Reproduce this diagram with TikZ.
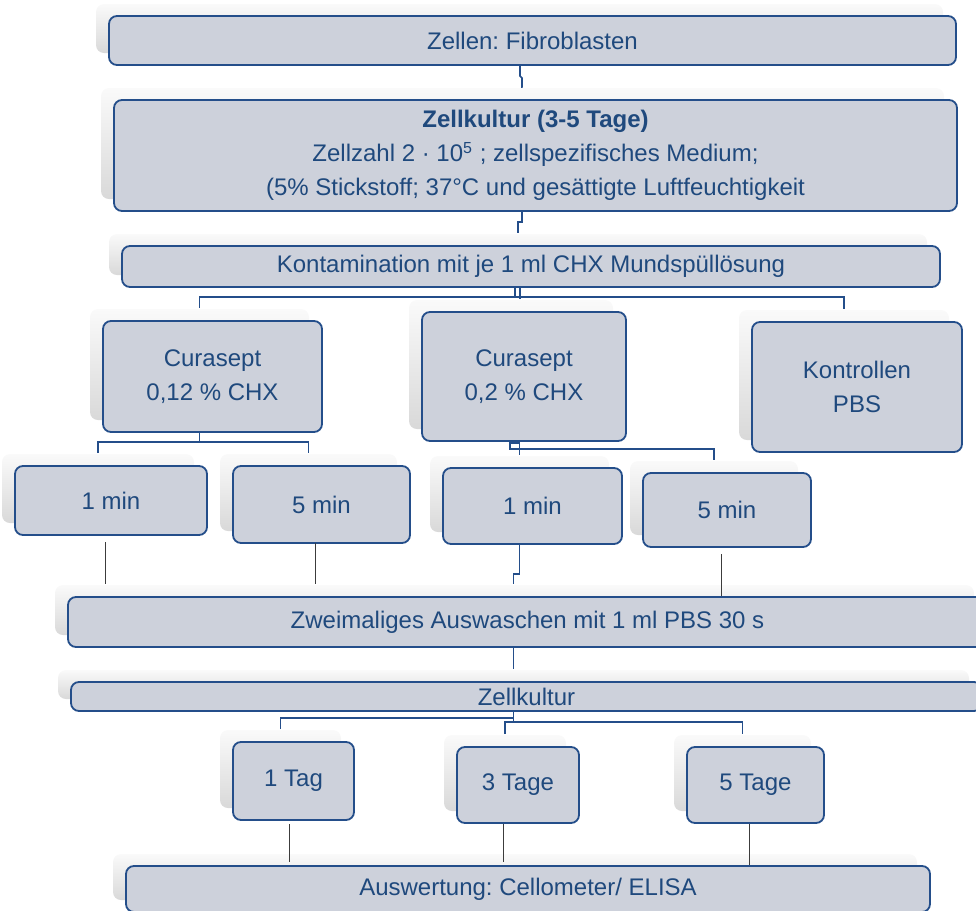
\documentclass[tikz,border=0pt]{standalone}
\usepackage{fontspec}
\setmainfont{Liberation Sans}
\usetikzlibrary{calc}
\definecolor{boxfill}{RGB}{205,209,219}
\definecolor{boxline}{RGB}{36,78,138}
\definecolor{boxtext}{RGB}{31,73,125}
\definecolor{graylink}{RGB}{60,60,60}
\frenchspacing

\begin{document}
\begin{tikzpicture}[x=0.5pt, y=-0.5pt,
  stage/.style 2 args={draw=boxline, line width=0.9pt, fill=boxfill, rounded corners=4pt,
    text=boxtext, align=center, font=\fontsize{12}{17}\selectfont, inner sep=0pt,
    minimum width=#1*0.5pt, minimum height=#2*0.5pt,
    preaction={draw=none, top color=black!2, bottom color=black!15,
      transform canvas={shift={(-6.5pt,6pt)}}}},
  link/.style={draw=boxline, line width=0.8pt},
  thinlink/.style={draw=graylink, line width=0.5pt}]
	\useasboundingbox (0,0) rectangle (976,911);
	\clip (0,0) rectangle (976,911);
	
	\node[stage={847}{49}] (zellen) at (532.5,40.5) {Zellen: Fibroblasten};
	\node[stage={843}{111}] (kultur) at (535.5,155.5) {\textbf{Zellkultur (3-5 Tage)}\\Zellzahl 2 · 10\textsuperscript{5} ; zellspezifisches Medium;\\(5\% Stickstoff; 37°C und gesättigte Luftfeuchtigkeit};
	\node[stage={818}{41}] (konta) at (531,266.5) {Kontamination mit je 1 ml CHX Mundspüllösung};
	
	\node[stage={219}{111}] (cura1) at (212.5,376.5) {Curasept\\0,12 \% CHX};
	\node[stage={204}{129}] (cura2) at (524,376.5) {Curasept\\0,2 \% CHX};
	\node[stage={210}{130}] (kontr) at (857,387) {Kontrollen\\PBS};
	
	\node[stage={192}{69}] (min1a) at (111,500.5) {1 min};
	\node[stage={177}{77}] (min5a) at (321.5,504.5) {5 min};
	\node[stage={179}{76}] (min1b) at (532.5,506) {1 min};
	\node[stage={168}{74}] (min5b) at (727,510) {5 min};
	
	\node[stage={919}{50}] (wasch) at (527.5,622) {Zweimaliges Auswaschen mit 1 ml PBS 30 s};
	\node[stage={911}{29}] (kultur2) at (526.5,696.5) {Zellkultur};
	
	\node[stage={121}{78}] (tag1) at (293.5,781) {1 Tag};
	\node[stage={122}{76}] (tag3) at (518,785) {3 Tage};
	\node[stage={137}{76}] (tag5) at (755.5,785) {5 Tage};
	
	\node[stage={804}{46}] (ausw) at (528,889) {Auswertung: Cellometer/ ELISA};
	
	% top of each shadow
	\foreach \n in {zellen,kultur,konta,cura1,cura2,kontr,min1a,min5a,min1b,min5b,wasch,kultur2,tag1,tag3,tag5,ausw}
		\coordinate (\n-s) at ([shift={(-13,-12)}]\n.north);
	
	\coordinate (j1) at (520,76);
	\draw[link] (j1 |- zellen.south) -- (j1) -- ++(2,2) |- (kultur-s);
	
	\coordinate (j2) at (522,222);
	\draw[link] (j2 |- kultur.south) -- (j2) -| (konta-s);
	
	\coordinate (j3) at (515,297);
	\coordinate (j3b) at (520,297);
	\draw[link] (cura1-s) |- (j3) -| (kontr-s);
	\draw[link] (j3) -- (j3 |- konta.south);
	\draw[link] (j3b |- konta.south) -- (j3b |- cura2-s);
	
	\coordinate (j4) at (199.5,442);
	\draw[link] (j4 |- cura1.south) -- (j4);
	\draw[link] (min1a-s) |- (j4) -| (min5a-s);
	
	\coordinate (j5) at (510,449);
	\draw[link] (j5 |- cura2.south) -- (j5) -| (min5b-s);
	\draw[link] ([yshift=3pt]j5) -| (min1b-s);
	
	\coordinate (g1) at (105,542);
	\coordinate (g2) at (315,543);
	\coordinate (g3) at (721,554);
	\draw[thinlink] (g1) -- (g1 |- wasch-s);
	\draw[thinlink] (g2) -- (g2 |- wasch-s);
	\draw[thinlink] (g3) -- (g3 |- wasch.north);
	\draw[link] (min1b-s |- min1b.south) -- ++(0,29) -- ++(-6,0) -- ++(0,10);
	
	\draw[link] (kultur2-s |- wasch.south) -- (kultur2-s);
	
	\coordinate (j9) at (513.5,718);
	\coordinate (j9b) at (513.5,722);
	\draw[link] (j9 |- kultur2.south) -- (j9b);
	\draw[link] (j9) -| (tag1-s);
	\draw[link] (tag3-s) |- (j9b) -| (tag5-s);
	
	\coordinate (t1) at (289,824);
	\coordinate (t3) at (503,824);
	\coordinate (t5) at (749,824);
	\draw[thinlink] (t1) -- ++(0,38);
	\draw[thinlink] (t3) -- ++(0,38);
	\draw[thinlink] (t5) -- (t5 |- ausw.north);
\end{tikzpicture}
\end{document}
